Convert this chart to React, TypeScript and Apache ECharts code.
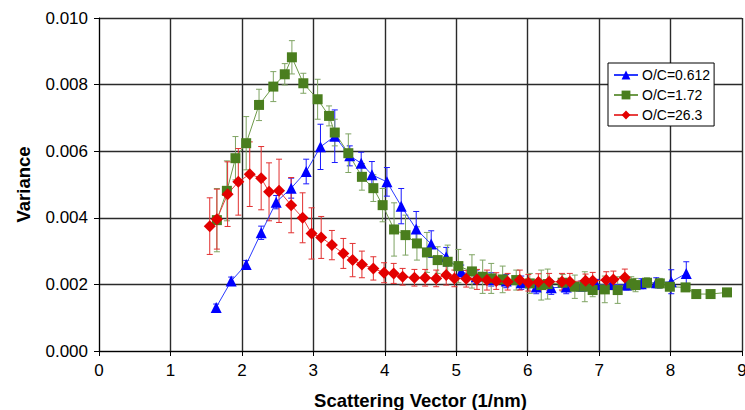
import React, { useEffect, useRef } from "react";
import * as echarts from "echarts";

const blueName = "O/C=0.612";
const greenName = "O/C=1.72";
const redName = "O/C=26.3";

const blueX = [1.64, 1.85, 2.06, 2.27, 2.48, 2.69, 2.90, 3.10, 3.30, 3.51, 3.67, 3.82, 4.03, 4.23, 4.44, 4.65, 4.86, 5.07, 5.28, 5.49, 5.70, 5.91, 6.12, 6.33, 6.54, 6.75, 6.96, 7.17, 7.38, 7.59, 7.80, 8.01, 8.22];
const blueY = [0.00131, 0.00210, 0.00260, 0.00355, 0.00447, 0.00489, 0.00539, 0.00613, 0.00645, 0.00586, 0.00564, 0.00529, 0.00508, 0.00435, 0.00366, 0.00321, 0.00283, 0.00238, 0.00223, 0.00215, 0.00210, 0.00205, 0.00192, 0.00190, 0.00192, 0.00195, 0.00200, 0.00200, 0.00198, 0.00202, 0.00205, 0.00208, 0.00233];
const blueErr = [0.0001, 0.00012, 0.00012, 0.0002, 0.0002, 0.0003, 0.00037, 0.00068, 0.00079, 0.0003, 0.00033, 0.0004, 0.00043, 0.00053, 0.00053, 0.0004, 0.00028, 0.0002, 0.0002, 0.0002, 0.0002, 0.0002, 0.0002, 0.0002, 0.0002, 0.00015, 0.00015, 0.00015, 0.00015, 0.00015, 0.00015, 0.00036, 0.00035];

const greenX = [1.65, 1.79, 1.91, 2.06, 2.24, 2.44, 2.60, 2.70, 2.86, 3.06, 3.22, 3.30, 3.49, 3.68, 3.84, 3.97, 4.13, 4.29, 4.45, 4.59, 4.74, 4.88, 5.03, 5.22, 5.37, 5.49, 5.65, 5.84, 6.03, 6.19, 6.28, 6.49, 6.66, 6.80, 6.91, 7.08, 7.26, 7.45, 7.51, 7.67, 7.85, 7.99, 8.21, 8.36, 8.56, 8.79];
const greenY = [0.00393, 0.00481, 0.00579, 0.00624, 0.00739, 0.00794, 0.00831, 0.00882, 0.00804, 0.00756, 0.00706, 0.00656, 0.00594, 0.00523, 0.00489, 0.00438, 0.00365, 0.00348, 0.00323, 0.00296, 0.00273, 0.00268, 0.00255, 0.00239, 0.00223, 0.00218, 0.00215, 0.00213, 0.00203, 0.00198, 0.00201, 0.00205, 0.00193, 0.00193, 0.00183, 0.00185, 0.00183, 0.00203, 0.00198, 0.00205, 0.00203, 0.00193, 0.00191, 0.00171, 0.00171, 0.00176];
const greenErr = [0.00095, 0.0009, 0.00065, 0.0008, 0.00047, 0.00045, 0.00032, 0.0005, 0.0003, 0.0006, 0.0003, 0.0004, 0.00058, 0.0004, 0.0004, 0.0005, 0.0008, 0.0006, 0.0005, 0.0006, 0.0004, 0.0005, 0.0005, 0.0005, 0.0005, 0.00045, 0.0004, 0.0003, 0.0003, 0.00045, 0.00045, 0.00025, 0.00035, 0.00045, 0.0002, 0.0004, 0.0004, 0.0002, 0.0002, 0.00015, 0.00015, 0.0001, 0.0001, 0.0001, 0.0001, 0.0001];

const redX = [1.55, 1.65, 1.80, 1.95, 2.11, 2.27, 2.38, 2.52, 2.69, 2.85, 2.975, 3.11, 3.26, 3.42, 3.55, 3.68, 3.84, 3.99, 4.125, 4.25, 4.415, 4.565, 4.72, 4.86, 4.975, 5.14, 5.29, 5.43, 5.56, 5.72, 5.89, 6.01, 6.15, 6.30, 6.48, 6.59, 6.81, 6.91, 7.10, 7.20, 7.36];
const redY = [0.00375, 0.00396, 0.00471, 0.00508, 0.00531, 0.00519, 0.00478, 0.00481, 0.00438, 0.00400, 0.00353, 0.00341, 0.00318, 0.00293, 0.00273, 0.00260, 0.00248, 0.00235, 0.00233, 0.00223, 0.00220, 0.00220, 0.00218, 0.00228, 0.00218, 0.00217, 0.00215, 0.00213, 0.00210, 0.00208, 0.00213, 0.00205, 0.00207, 0.00208, 0.00208, 0.00208, 0.00211, 0.00211, 0.00213, 0.00215, 0.00221];
const redErr = [0.00085, 0.0009, 0.00097, 0.001, 0.00097, 0.00095, 0.00087, 0.00095, 0.00083, 0.00075, 0.00077, 0.00063, 0.00044, 0.00045, 0.0005, 0.0004, 0.00035, 0.0003, 0.0003, 0.00025, 0.00025, 0.00025, 0.00025, 0.0003, 0.00025, 0.00025, 0.0003, 0.0003, 0.00025, 0.00025, 0.0003, 0.00025, 0.00025, 0.00025, 0.00025, 0.00025, 0.0002, 0.00025, 0.00025, 0.00025, 0.00025];

const FONT = "'Liberation Sans', Arial, sans-serif";

function errSeries(name: string, xs: number[], ys: number[], es: number[], color: string) {
  return {
    type: "custom",
    name,
    data: xs.map((x, i) => [x, ys[i] - es[i], ys[i] + es[i]]),
    encode: { x: 0, y: [1, 2] },
    silent: true,
    renderItem: (_params: any, api: any) => {
      const x = api.value(0);
      const lo = api.coord([x, api.value(1)]);
      const hi = api.coord([x, api.value(2)]);
      const w = 3;
      const style = { stroke: color, lineWidth: 1 };
      return {
        type: "group",
        children: [
          { type: "line", shape: { x1: hi[0], y1: hi[1], x2: lo[0], y2: lo[1] }, style },
          { type: "line", shape: { x1: hi[0] - w, y1: hi[1], x2: hi[0] + w, y2: hi[1] }, style },
          { type: "line", shape: { x1: lo[0] - w, y1: lo[1], x2: lo[0] + w, y2: lo[1] }, style },
        ],
      };
    },
  };
}

function lineSeries(name: string, xs: number[], ys: number[], color: string, lineColor: string, symbol: string, size: number) {
  return {
    type: "line",
    name,
    data: xs.map((x, i) => [x, ys[i]]),
    symbol,
    symbolSize: size,
    showAllSymbol: true,
    itemStyle: { color },
    lineStyle: { color: lineColor, width: 1 },
    emphasis: { disabled: true },
  };
}

export default function App() {
  const ref = useRef<HTMLDivElement>(null);
  useEffect(() => {
    if (!ref.current) return;
    const chart = echarts.init(ref.current, null, { renderer: "svg" });
    chart.setOption({
      animation: false,
      backgroundColor: "#ffffff",
      textStyle: { fontFamily: FONT },
      grid: { left: 99, right: 3, top: 18, bottom: 59, containLabel: false, outerBoundsMode: "none" },
      legend: {
        data: [blueName, greenName, redName],
        orient: "vertical",
        left: 608,
        top: 63,
        itemWidth: 24,
        itemHeight: 11,
        itemGap: 6,
        padding: [5, 4, 4, 5],
        borderColor: "#000",
        borderWidth: 1,
        backgroundColor: "#fff",
        textStyle: { fontFamily: FONT, fontSize: 14, color: "#000", padding: [0, 0, 0, -1] },
      },
      xAxis: {
        type: "value",
        min: 0,
        max: 9,
        interval: 1,
        name: "Scattering Vector (1/nm)",
        nameLocation: "middle",
        nameGap: 40,
        nameTextStyle: { fontFamily: FONT, fontSize: 18.5, fontWeight: "bold", color: "#000" },
        axisLine: { lineStyle: { color: "#000", width: 1 } },
        axisTick: { show: true, length: 5, lineStyle: { color: "#000" } },
        axisLabel: { fontFamily: FONT, fontSize: 17, color: "#000", margin: 11 },
        splitLine: { show: true, lineStyle: { color: "#2a2a2a", width: 1.4 } },
      },
      yAxis: {
        type: "value",
        min: 0,
        max: 0.01,
        interval: 0.002,
        name: "Variance",
        nameLocation: "middle",
        nameGap: 66,
        nameTextStyle: { fontFamily: FONT, fontSize: 18.5, fontWeight: "bold", color: "#000" },
        axisLine: { show: true, lineStyle: { color: "#000", width: 1 } },
        axisTick: { show: true, length: 5, lineStyle: { color: "#000" } },
        axisLabel: { fontFamily: FONT, fontSize: 17, color: "#000", margin: 11, formatter: (v: number) => v.toFixed(3) },
        splitLine: { show: true, lineStyle: { color: "#2a2a2a", width: 1.4 } },
      },
      series: [
        errSeries("errBlue", blueX, blueY, blueErr, "#1a1aff"),
        lineSeries(blueName, blueX, blueY, "#0000ff", "#2a3aff", "triangle", 11),
        errSeries("errGreen", greenX, greenY, greenErr, "#7fa463"),
        lineSeries(greenName, greenX, greenY, "#4a7e1e", "#6e9a4a", "rect", 10),
        errSeries("errRed", redX, redY, redErr, "#e23030"),
        lineSeries(redName, redX, redY, "#e30000", "#e84040", "diamond", 12),
      ],
    });
    return () => chart.dispose();
  }, []);
  return <div ref={ref} style={{ width: 745, height: 410, position: "absolute", left: 0, top: 0 }} />;
}
